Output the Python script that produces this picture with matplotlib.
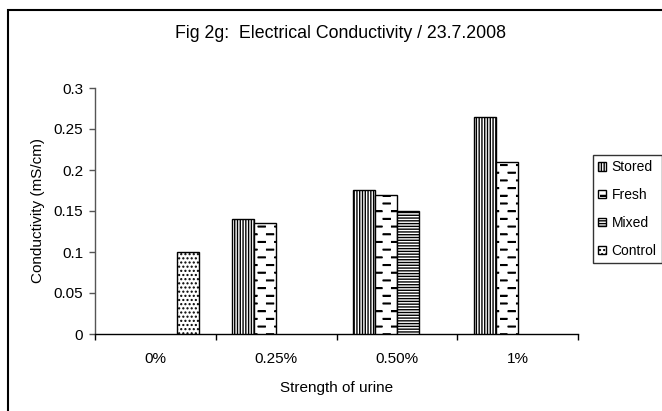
import warnings
import numpy as np
import matplotlib
matplotlib.use("Agg")
import matplotlib.pyplot as plt
import matplotlib.hatch as mhatch
from matplotlib.path import Path
from matplotlib.patches import Rectangle

warnings.filterwarnings("ignore")

# ---- data ----
categories = ["0%", "0.25%", "0.50%", "1%"]
series = ["Stored", "Fresh", "Mixed", "Control"]
stored = [np.nan, 0.14, 0.175, 0.265]
fresh = [np.nan, 0.135, 0.17, 0.21]
mixed = [np.nan, np.nan, 0.15, np.nan]
control = [0.10, np.nan, np.nan, np.nan]
yticks = [0, 0.05, 0.1, 0.15, 0.2, 0.25, 0.3]
ytick_labels = ["0", "0.05", "0.1", "0.15", "0.2", "0.25", "0.3"]


# ---- custom staggered-dash hatch (for "Fresh") ----
class DashHatch(mhatch.HatchPatternBase):
    def __init__(self, hatch, density):
        n = hatch.count('d')
        self.rows = 13 * n
        self.cols = 6 * n
        self.num_vertices = (self.rows * self.cols) * 4 if n else 0

    def set_vertices_and_codes(self, vertices, codes):
        dx = 1.0 / self.cols
        dy = 1.0 / self.rows
        L = 0.068
        k = 0
        for r in range(self.rows):
            off = 0.0 if r % 2 == 0 else dx / 2
            y = (r + 0.5) * dy
            for c in range(self.cols):
                x0 = c * dx + off
                for yy in (y, y + 0.007):
                    vertices[k] = (x0, yy)
                    vertices[k + 1] = (x0 + L, yy)
                    codes[k] = Path.MOVETO
                    codes[k + 1] = Path.LINETO
                    k += 2


mhatch._hatch_types.append(DashHatch)
mhatch._validate_hatch_pattern = lambda h: None

plt.rcParams['font.family'] = ['Liberation Sans', 'DejaVu Sans']
plt.rcParams['hatch.linewidth'] = 1.0

W, H = 662, 411
fig = plt.figure(figsize=(W / 100, H / 100), dpi=100)
ax = fig.add_axes([95 / W, 1 - 334 / H, 483 / W, 246 / H])

values = [stored, fresh, mixed, control]
hatches = ['||||||', 'd', '------', '....']
n = len(series)
w = 1 / (n + 1.5)
x = np.arange(len(categories))
handles = []
for j, (name, vals, hat) in enumerate(zip(series, values, hatches)):
    b = ax.bar(x + (j - (n - 1) / 2) * w, vals, width=w, facecolor='white',
               edgecolor='black', linewidth=1.0, hatch=hat, label=name,
               zorder=3)
    handles.append(b)

ax.set_xlim(-0.5, len(categories) - 0.5)
ax.set_ylim(0, 0.3)
ax.set_yticks(yticks)
ax.set_yticklabels(ytick_labels)
ax.set_xticks(x)
ax.set_xticklabels(categories)
ax.set_xticks(np.arange(-0.5, len(categories)), minor=True)
ax.tick_params(axis='x', which='major', length=0, pad=13, labelsize=11)
ax.tick_params(axis='x', which='minor', length=4.5, width=1.0,
               direction='out')
ax.tick_params(axis='y', length=4.5, width=1.0, direction='out',
               labelsize=11, pad=4, color='#555555')
for s in ['top', 'right']:
    ax.spines[s].set_visible(False)
ax.spines['left'].set_color('#555555')
ax.spines['left'].set_linewidth(1.0)
ax.spines['bottom'].set_linewidth(1.0)

fig.text(38 / W, 1 - 210 / H, "Conductivity (mS/cm)", rotation=90,
         ha='center', va='center', fontsize=11)
fig.text(337 / W, 1 - 388 / H, "Strength of urine", ha='center',
         va='center', fontsize=11)
fig.text(340 / W, 1 - 33 / H, "Fig 2g:  Electrical Conductivity / 23.7.2008",
         ha='center', va='center', fontsize=12.8)

leg = fig.legend(handles=handles, labels=series, loc='upper left',
                 bbox_to_anchor=(593 / W, 1 - 155 / H), borderaxespad=0,
                 fontsize=10, frameon=True, fancybox=False,
                 handlelength=0.55, handleheight=0.55, handletextpad=0.4,
                 labelspacing=1.0, borderpad=0.38)
leg.get_frame().set_edgecolor('black')
leg.get_frame().set_linewidth(1.0)

fig.patches.append(Rectangle((8 / W, -0.1), 2, 1.1 - 10 / H,
                             transform=fig.transFigure, fill=False,
                             edgecolor='black', linewidth=1.5))

fig.savefig("out.png", dpi=100)
